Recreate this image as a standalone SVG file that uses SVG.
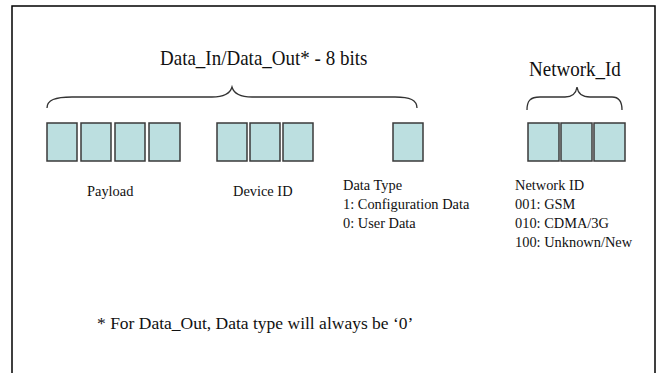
<svg xmlns="http://www.w3.org/2000/svg" width="660" height="373" viewBox="0 0 660 373">
<style>
.bit{fill:#bcdfe0;stroke:#3a3a3a;stroke-width:1.5}
.brace{fill:none;stroke:#333;stroke-width:1.3}
text{font-family:"Liberation Serif","Times New Roman",serif;fill:#111}
.t19{font-size:19px}
.t14{font-size:14.4px}
.t17{font-size:17.5px}
</style>
<rect width="660" height="373" fill="#fff"/>
<rect x="12" y="6" width="643" height="380" fill="none" stroke="#000" stroke-width="1.5"/>
<g id="title"><text class="t19" x="160" y="65" transform="translate(160 65) scale(1 1.1) translate(-160 -65)">Data_In/Data_Out* - 8 bits</text></g>
<g id="netTitle"><text class="t19" x="529" y="76" transform="translate(529 76) scale(1 1.1) translate(-529 -76)">Network_Id</text></g>
<g id="connectors">
<path class="brace" d="M47,108 C47,100 55,97 72,97 L212,97 C224,97 230,94 232,87 C234,94 240,97 252,97 L395,97 C410,97 417,100 417,108"/>
<path class="brace" d="M527,110 C527,101 530,97 540,97 L565,97 C572,97 576,94 577,87 C578,94 582,97 590,97 L612,97 C619,97 622,101 622,110"/>
</g>
<g id="payload">
<rect class="bit" x="47" y="123" width="30" height="38"/>
<rect class="bit" x="81" y="123" width="30" height="38"/>
<rect class="bit" x="115" y="123" width="30" height="38"/>
<rect class="bit" x="149" y="123" width="31" height="38"/>
<text class="t14" x="87" y="196">Payload</text>
</g>
<g id="device">
<rect class="bit" x="217" y="123" width="30" height="38"/>
<rect class="bit" x="250" y="123" width="30" height="38"/>
<rect class="bit" x="283" y="123" width="30" height="38"/>
<text class="t14" x="233" y="196">Device ID</text>
</g>
<g id="datatype">
<rect class="bit" x="393" y="123" width="30" height="38"/>
<text class="t14" x="343" y="190">Data Type</text>
<text class="t14" x="343" y="209">1: Configuration Data</text>
<text class="t14" x="343" y="228">0: User Data</text>
</g>
<g id="network">
<rect class="bit" x="528" y="123" width="31" height="38"/>
<rect class="bit" x="561" y="123" width="31" height="38"/>
<rect class="bit" x="594" y="123" width="31" height="38"/>
<text class="t14" x="515" y="190">Network ID</text>
<text class="t14" x="515" y="209">001: GSM</text>
<text class="t14" x="515" y="228">010: CDMA/3G</text>
<text class="t14" x="515" y="247">100: Unknown/New</text>
</g>
<g id="footnote"><text class="t17" x="97" y="329">* For Data_Out, Data type will always be ‘0’</text></g>
</svg>
